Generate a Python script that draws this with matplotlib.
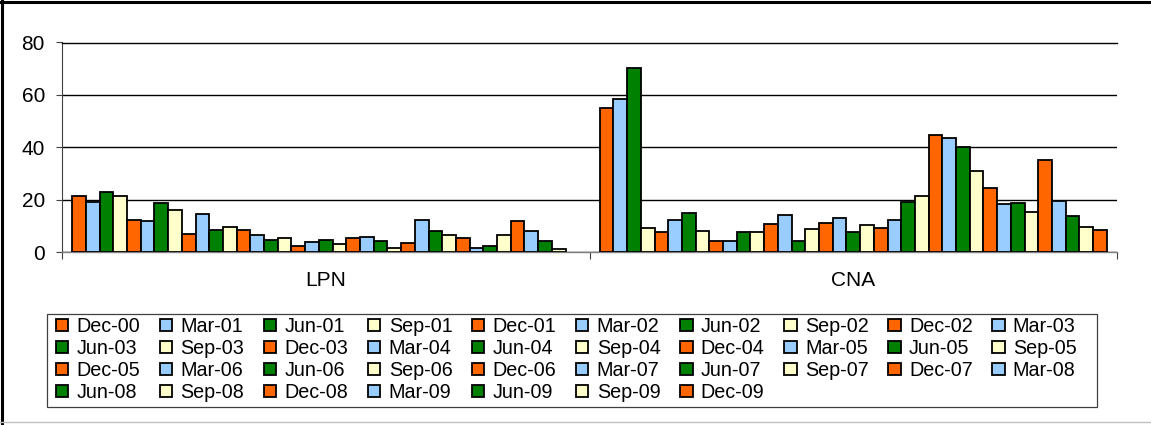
import matplotlib.pyplot as plt
import numpy as np
from matplotlib.lines import Line2D
from matplotlib.patches import Rectangle

plt.rcParams['font.family'] = ['Liberation Sans', 'DejaVu Sans']

groups = ['LPN', 'CNA']
quarters = ['Dec-00', 'Mar-01', 'Jun-01', 'Sep-01', 'Dec-01', 'Mar-02', 'Jun-02', 'Sep-02',
            'Dec-02', 'Mar-03', 'Jun-03', 'Sep-03', 'Dec-03', 'Mar-04', 'Jun-04', 'Sep-04',
            'Dec-04', 'Mar-05', 'Jun-05', 'Sep-05', 'Dec-05', 'Mar-06', 'Jun-06', 'Sep-06',
            'Dec-06', 'Mar-07', 'Jun-07', 'Sep-07', 'Dec-07', 'Mar-08', 'Jun-08', 'Sep-08',
            'Dec-08', 'Mar-09', 'Jun-09', 'Sep-09', 'Dec-09']
lpn = [21.4, 19.1, 22.9, 21.4, 12.4, 11.8, 18.6, 15.9, 6.8, 14.6,
       8.5, 9.6, 8.5, 6.4, 4.5, 5.5, 2.4, 3.7, 4.6, 3.2,
       5.4, 5.9, 4.1, 1.7, 3.4, 12.2, 8.2, 6.5, 5.4, 1.7,
       2.3, 6.4, 12.0, 8.2, 4.3, 1.2, np.nan]
cna = [54.9, 58.6, 70.2, 9.0, 7.6, 12.2, 14.8, 8.0, 4.3, 4.2,
       7.5, 7.8, 10.6, 14.0, 4.3, 8.8, 11.1, 12.9, 7.6, 10.3,
       9.3, 12.4, 19.2, 21.3, 44.6, 43.4, 40.0, 30.9, 24.5, 18.3,
       18.7, 15.4, 35.0, 19.6, 13.8, 9.5, 8.5]
colors = ['#FF6600', '#99CCFF', '#008000', '#FFFFCC']

W, H = 1151, 425
fig = plt.figure(figsize=(W / 100, H / 100), dpi=100)
ax = fig.add_axes([62 / W, 1 - 252 / H, (1117 - 62) / W, (252 - 42.5) / H])

n = len(quarters)
w = 1 / (n + 1.5)
x = np.arange(len(groups))
bars = []
for i, q in enumerate(quarters):
    b = ax.bar(x + (i - (n - 1) / 2) * w, [lpn[i], cna[i]], width=w,
               color=colors[i % 4], edgecolor='black', linewidth=1.3,
               label=q, zorder=3)
    bars.append(b)

ax.set_xlim(-0.5, 1.5)
ax.set_ylim(0, 80)
ax.set_yticks([0, 20, 40, 60, 80])
ax.yaxis.grid(True, color='black', linewidth=1)
ax.set_axisbelow(True)
ax.set_xticks(x)
ax.set_xticklabels(groups)
ax.set_xticks([-0.5, 0.5, 1.5], minor=True)
ax.tick_params(axis='x', which='major', length=0, pad=14, labelsize=15)
ax.tick_params(axis='x', which='minor', length=5, width=0.8, color='#404040', direction='out')
ax.tick_params(axis='y', length=4.3, width=0.8, color='#404040', pad=8, labelsize=15)
ax.spines['right'].set_visible(False)
ax.spines['top'].set_color('black')
ax.spines['top'].set_linewidth(1)
ax.spines['left'].set_color('#404040')
ax.spines['bottom'].set_color('#808080')
ax.spines['left'].set_linewidth(0.8)
ax.spines['bottom'].set_linewidth(1)

# legend is filled row by row like Excel, matplotlib fills by column
ncol = 10
nrow = int(np.ceil(n / ncol))
order = [r * ncol + c for c in range(ncol) for r in range(nrow) if r * ncol + c < n]
leg = ax.legend([bars[k] for k in order], [quarters[k] for k in order],
                ncol=ncol, loc='upper left', bbox_to_anchor=(56 / W, 1 - 317 / H),
                bbox_transform=fig.transFigure, frameon=False, fontsize=14.2,
                borderpad=0, borderaxespad=0, handlelength=0.62, handleheight=0.62,
                handletextpad=0.42, columnspacing=1.0, labelspacing=0.15)

fig.add_artist(Rectangle((47 / W, 1 - 407 / H), (1097 - 47) / W, (407 - 314) / H,
                         transform=fig.transFigure, fill=False, edgecolor='#404040', linewidth=0.9))
# outer chart border
fig.add_artist(Line2D([0, 1], [1 - 1.5 / H, 1 - 1.5 / H], transform=fig.transFigure, color='black', linewidth=2.2))
fig.add_artist(Line2D([1.5 / W, 1.5 / W], [0, 1], transform=fig.transFigure, color='black', linewidth=2.2))
fig.add_artist(Line2D([0, 1], [1 - 422 / H, 1 - 422 / H], transform=fig.transFigure, color='#c0c0c0', linewidth=1))

fig.savefig('out.png', dpi=100)
